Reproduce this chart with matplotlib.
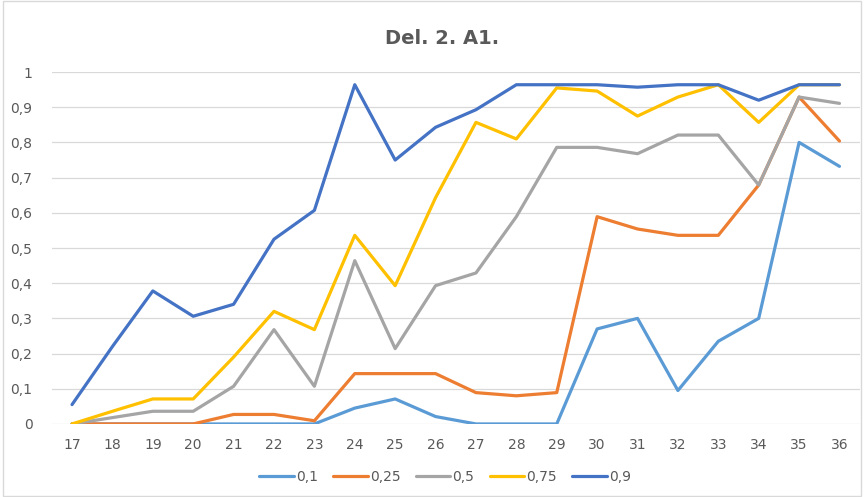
import matplotlib.pyplot as plt
from matplotlib.ticker import FuncFormatter

# data
x = list(range(17, 37))
names = ["0,1", "0,25", "0,5", "0,75", "0,9"]
s01 = [0, 0, 0, 0, 0, 0, 0, 0.045, 0.071, 0.021, 0, 0, 0, 0.27, 0.30, 0.095, 0.235, 0.30, 0.80, 0.732]
s025 = [0, 0, 0, 0, 0.027, 0.027, 0.009, 0.143, 0.143, 0.143, 0.089, 0.08, 0.089, 0.589, 0.554, 0.536, 0.536, 0.679, 0.929, 0.804]
s05 = [0, 0.018, 0.036, 0.036, 0.107, 0.268, 0.107, 0.464, 0.214, 0.393, 0.429, 0.589, 0.786, 0.786, 0.768, 0.821, 0.821, 0.679, 0.929, 0.911]
s075 = [0, 0.036, 0.071, 0.071, 0.19, 0.32, 0.268, 0.536, 0.393, 0.643, 0.857, 0.81, 0.955, 0.946, 0.875, 0.929, 0.964, 0.857, 0.964, 0.964]
s09 = [0.055, 0.22, 0.378, 0.306, 0.34, 0.525, 0.607, 0.964, 0.75, 0.843, 0.893, 0.964, 0.964, 0.964, 0.957, 0.964, 0.964, 0.92, 0.964, 0.964]
series = [s01, s025, s05, s075, s09]
colors = ["#5B9BD5", "#ED7D31", "#A5A5A5", "#FFC000", "#4472C4"]

txt = "#595959"
fig = plt.figure(figsize=(8.64, 4.97), dpi=100)
ax = fig.add_axes([0.060, 0.147, 0.935, 0.708])

for vals, c, n in zip(series, colors, names):
    ax.plot(x, vals, color=c, lw=2.3, label=n, solid_capstyle="round", solid_joinstyle="round")

ax.set_xlim(16.5, 36.5)
ax.set_ylim(0, 1)
ax.set_xticks(x)
ax.set_yticks([i / 10 for i in range(11)])
ax.yaxis.set_major_formatter(FuncFormatter(lambda v, p: ("%g" % round(v, 1)).replace(".", ",")))
ax.grid(axis="y", color="#D9D9D9", lw=0.9)
ax.set_axisbelow(True)
for sp in ax.spines.values():
    sp.set_visible(False)
ax.tick_params(length=0, labelsize=10, colors=txt)
ax.tick_params(axis="x", pad=10)
ax.tick_params(axis="y", pad=14)

fig.text(0.512, 0.923, "Del. 2. A1.", ha="center", va="center", fontsize=14, fontweight="bold", color=txt)

fig.legend(loc="center", bbox_to_anchor=(0.515, 0.040), ncol=5, frameon=False,
           fontsize=10, labelcolor=txt, handlelength=2.5, handletextpad=0.15, columnspacing=1.1)

fig.patches.append(plt.Rectangle((0.003, 0.003), 0.994, 0.994, transform=fig.transFigure,
                                 fill=False, edgecolor="#D9D9D9", lw=1))

fig.savefig("out.png", dpi=100)
